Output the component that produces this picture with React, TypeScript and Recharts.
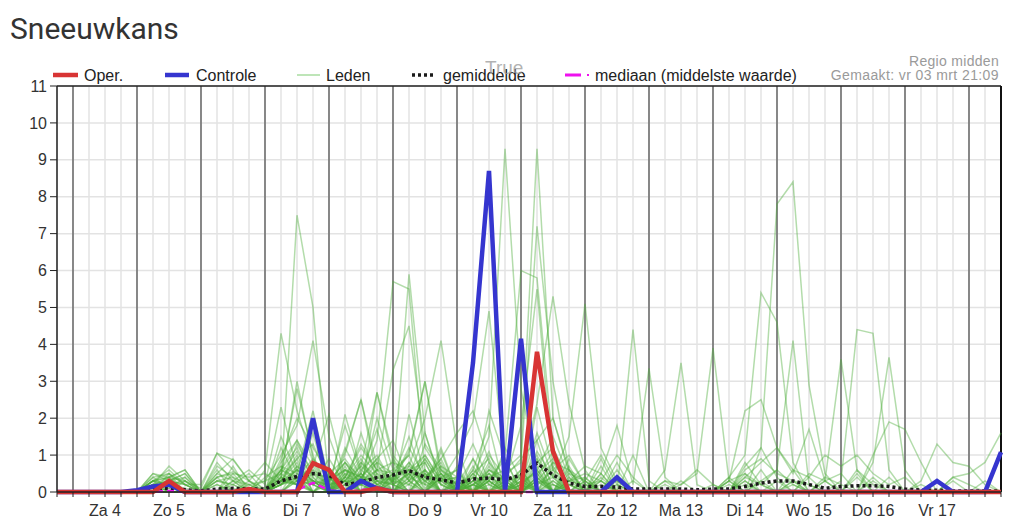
import React from "react";
import { LineChart, Line, XAxis, YAxis, CartesianGrid, ReferenceLine } from "recharts";

// 6-hourly steps starting vr 3 mrt 18:00 (index 0) up to za 18 mrt 12:00 (index 59)
const dayLabels = ["Za 4", "Zo 5", "Ma 6", "Di 7", "Wo 8", "Do 9", "Vr 10", "Za 11", "Zo 12", "Ma 13", "Di 14", "Wo 15", "Do 16", "Vr 17"];
const yTicks = [0, 1, 2, 3, 4, 5, 6, 7, 8, 9, 10, 11];

const oper = [0, 0,0,0,0, 0,0,0.3,0, 0,0,0,0.08, 0,0,0,0.78, 0.6,0,0,0.1, 0,0,0,0, 0,0,0,0, 0,3.8,1.1,0, 0,0,0,0, 0,0,0,0, 0,0,0,0, 0,0,0,0, 0,0,0,0, 0,0,0,0, 0,0,0];
const controle = [0, 0,0,0,0, 0.05,0.15,0.2,0, 0,0,0,0, 0,0,0,2.0, 0,0,0.3,0.1, 0,0,0,0, 0,3.5,8.7,0, 4.15,0,0,0, 0,0,0.4,0, 0,0,0,0, 0,0,0,0, 0,0,0,0, 0,0,0,0, 0,0,0.3,0, 0,0,1.08];
const gemiddelde = [0, 0,0,0,0, 0.03,0.08,0.1,0.06, 0.03,0.08,0.1,0.08, 0.08,0.3,0.42,0.5, 0.45,0.2,0.27,0.39, 0.46,0.58,0.4,0.33, 0.24,0.35,0.38,0.33, 0.46,0.78,0.46,0.24, 0.15,0.15,0.13,0.08, 0.08,0.08,0.08,0.06, 0.08,0.08,0.15,0.24, 0.3,0.3,0.2,0.1, 0.15,0.17,0.17,0.15, 0.08,0.05,0.05,0.03, 0.03,0.03,0.03];
const mediaan = [0, 0,0,0,0, 0,0,0.03,0, 0,0,0,0, 0,0,0.05,0.25, 0.05,0,0.05,0.1, 0,0,0,0, 0,0,0,0, 0,0,0,0, 0,0,0,0, 0,0,0,0, 0,0,0,0, 0,0,0,0, 0,0,0,0, 0,0,0,0, 0,0,0];

const leden: number[][] = [
  [0, 0,0,0,0, 0,0.3,0.2,0, 0,0,0.1,0, 0,0.3,7.5,5.0, 0.2,0.4,1.2,0.6, 0.8,0.3,0,0.5, 0,0.2,0.6,0.3, 0.4,1.0,0.2,0, 0,0,0,0, 0,0,0,0, 0,0,0.5,0, 0,0,0,0, 0,0,0,0, 0,0,0,0, 0,0,0],
  [0, 0,0,0,0, 0,0.4,0.5,0.2, 0,0.3,0.2,0, 0.6,4.3,2.2,0.8, 0,1.1,2.5,0.7, 0.3,1.2,0.4,0, 0,0.5,0,1.2, 0.3,0,0.8,0.2, 0,0.9,0,0, 0,0,0,0, 0,0,0,0, 0,0.3,0,0, 0,0,0,0, 0,0,0,0, 0,0,0],
  [0, 0,0,0,0, 0,0.2,0.7,0.3, 0.1,1.05,0.6,0.1, 0.3,1.0,1.8,4.1, 1.5,0.3,0,2.7, 1.0,0.4,1.6,0.3, 0,0,1.0,0.4, 0,2.3,0.6,0, 0,0,0.4,0, 0,0,0,0, 0.2,0,0.7,1.2, 0.4,0,0,0, 0,0,0,0, 0,0,0,0, 0,0,0],
  [0, 0,0,0,0, 0,0,0.4,0, 0,0.5,0.9,0.3, 0,0.9,2.0,1.2, 0.5,0.9,0.3,1.4, 5.7,5.5,0.5,0, 0.3,0,0.8,0, 0,0.6,1.5,0.4, 0,0,0,0, 0,0,0,0, 0,0,0,0.3, 0.6,0.2,0,0, 0,0,0,0, 0,0,0,0, 0,0,0],
  [0, 0,0,0,0, 0,0.1,0.3,0.5, 0,0,0.3,0.6, 0.2,2.3,0.6,0.5, 0,0.3,0.8,0.2, 0.3,5.9,1.6,0.2, 0,0.6,1.8,0, 0.2,0,0,0.9, 0.2,0,0,0, 0,0,0,0, 0,0,0,0, 0,0,0,0, 0,0.4,0,0, 0,0,0,0, 0,0,0],
  [0, 0,0,0,0, 0,0.3,0.4,0.6, 0,0.8,0.3,0, 0,0.5,2.8,1.0, 0,0.4,1.3,0.6, 3.3,4.5,1.2,0.5, 0,0,2.2,0.9, 0,1.4,0,0, 0,0,0,0, 0,0,0,0, 0,0,0.8,0.2, 0,0,0,0, 0,0,0,0, 0,0,0,0, 0,0,0],
  [0, 0,0,0,0, 0,0,0.2,0.1, 0,0.4,0.5,0, 0,0.2,1.3,0.5, 0.2,1.8,0.5,0.2, 0.5,0.7,2.0,4.1, 1.2,0,0.4,0, 0.3,0.9,0,0, 0,0,0,0, 0,0,0,0, 0,0,0,0, 0,0,0,0, 0,0,0.3,0, 0,0,0,0, 0,0,0],
  [0, 0,0,0,0, 0,0,0,0.3, 0,0,0,0.2, 0,0.6,1.2,0.3, 0,0,0.6,1.0, 0.2,0.8,0.3,0.5, 0,0.4,1.5,9.3, 2.8,0.5,0,0, 0,0,0.2,0, 0,0,0,0, 0,0,0,0, 0,0,0,0, 0,0,0,0, 0,0,0,0, 0,0,0],
  [0, 0,0,0,0, 0,0.2,0,0, 0,0,0,0, 0,0.3,0.8,0, 0,0.5,0.3,0, 0,0.6,1.0,0.3, 0,0,0.4,0.6, 1.0,9.3,2.0,0.5, 0.3,0,0,0, 0,0,0,0, 0,0,0,0, 0,0,0,0, 0,0,0,0, 0,0,0,0, 0,0,0],
  [0, 0,0,0,0, 0,0,0.3,0.2, 0,0.6,0,0, 0,0.4,3.0,0.9, 0.4,0,1.6,0.3, 0,2.1,0.4,0.8, 0,0.7,0,0.5, 0.8,7.2,3.0,0.6, 0,0,0.8,0, 0,0,0,0, 0,0,0,0, 0,0,0,0, 0,0,0,0, 0,0,0,0, 0,0,0],
  [0, 0,0,0,0, 0,0.4,0.1,0, 0,0.3,0.4,0.2, 0,1.5,0.5,2.2, 0.3,0.8,0.2,2.0, 0.6,1.0,0,1.1, 0,0,0.3,1.0, 6.0,5.8,1.2,0, 0.4,0,0,1.0, 0,0,0,0, 0,0,0,0, 0,0,0.4,0, 0,0,0,0, 0,0,0,0, 0,0,0],
  [0, 0,0,0,0, 0,0,0.5,0.2, 0,0.2,0,0.3, 0,0.8,1.4,0.4, 0,0.6,0.4,0.9, 1.4,0.3,0.9,0.2, 0,0.3,1.1,0, 0.5,2.4,5.3,2.4, 0.6,0,0,0, 0,0,0,0, 0,0,0,0, 0,0,0,0, 0,0,0,0, 0,0,0,0, 0,0,0],
  [0, 0,0,0,0, 0,0.2,0.3,0, 0,0,0,0, 0,0,0.7,0.3, 0,0.4,1.0,0.5, 0.3,0.6,0.8,0, 0.4,0,0.5,0.3, 0,1.1,0.4,1.5, 5.1,1.2,0.3,0, 0,0,0,0, 0,0,0,0, 0,0,0,0, 0,0,0,0, 0,0,0,0, 0,0,0],
  [0, 0,0,0,0, 0,0.3,0.2,0, 0,0,0.7,0, 0.4,0.7,0.3,1.6, 0,1.2,0.4,0, 0.5,0,1.3,0.6, 0.2,0.9,0,0.3, 1.8,5.5,0.6,1.0, 0.2,0.3,0,0, 0,0,0,0, 0,0.3,0,0, 0,0,0,0, 0,0,0,0, 0,0,0,0, 0,0,0],
  [0, 0,0,0,0, 0,0.5,0.3,0, 0,0,0.2,0.5, 0,0.3,1.0,0.2, 0.9,0.2,0.7,0.3, 0.4,1.5,0.2,0.3, 1.0,1.9,4.9,0.6, 0,0.4,0,0.3, 0.4,0,0,0, 0,0,0,0, 0,0,0,0, 0,0,0,0, 0,0,0,0, 0,0,0,0, 0,0,0],
  [0, 0,0,0,0, 0,0,0.1,0.4, 0,0.4,0,0, 0,0.6,0.4,0.3, 0,0.3,0.9,0.2, 0.4,0.6,0.3,0.9, 0,0.2,0.5,0, 0.2,1.6,0.4,0, 0,0.5,0,4.4, 0.3,0,0,0, 0,0,0,0, 0,0,0,0, 0,0,0,0, 0,0,0,0, 0,0,0],
  [0, 0,0,0,0, 0,0.2,0,0, 0,0,0,0, 0,0.4,0.9,0, 0.3,0,0.5,1.7, 0.2,0.5,0,0.4, 0.6,0,0.3,0, 0,0.8,1.2,0.3, 0.7,0.5,1.8,0.2, 3.35,0.4,0,0, 0,0,0,0, 0,0,0,0, 0,0,0,0, 0,0,0,0, 0,0,0],
  [0, 0,0,0,0, 0,0,0,0, 0,0,0,0, 0,0.2,0.5,0.3, 0,0.8,0.2,0, 0.9,0.3,0.6,0.2, 0,0.5,0,0.4, 0,0.4,0,0.7, 0,0.3,0,0, 0,0.6,3.5,0.2, 0,0,0,0, 0,0,0,0, 0,0,0,0, 0,0,0,0, 0,0,0],
  [0, 0,0,0,0, 0,0.3,0.4,0, 0,0,0,0, 0,0.2,0.4,0.6, 0,0.2,0.5,0, 0.3,0.8,0.1,0.5, 0.2,0,0.7,0, 0.3,0.5,0.9,0, 0,0.3,0,0, 0,0,0.2,0.5, 3.9,0.3,0,0.6, 0,0.2,0,0, 0,0,0,0, 0,0,0,0, 0,0,0],
  [0, 0,0,0,0, 0,0,0,0, 0,0,0,0, 0,0,0.3,0.2, 0,0.4,0,0.6, 0.5,0.2,0.8,0, 0,0.3,0,0.2, 0.6,0,0.3,0, 0,0,0,0, 0,0,0,0, 0,0.4,1.0,5.4, 4.6,0.8,0,0, 0,0,0,0, 0,0,0,0, 0,0,0],
  [0, 0,0,0,0, 0,0,0,0, 0,0,0,0, 0,0.3,0.6,0, 0,0,0.4,0.9, 0.2,0,0.5,0.3, 0.4,0,0,0.3, 0,0.7,0,0.2, 0,0,0,0, 0,0,0,0, 0,0,0,1.2, 7.8,8.4,2.9,0.5, 0,0,0,0, 0,0,0,0, 0,0,0],
  [0, 0,0,0,0, 0,0,0,0, 0,0,0,0, 0,0.5,0.2,0, 0.3,0.6,0,0.2, 0,0.4,0.2,0, 0.2,0.4,0.3,0.9, 0,0.2,0.4,0, 0,0,0,0, 0,0,0,0, 0,0.3,0.5,0.2, 0.6,4.1,0.2,0, 0,0,0,0, 0,0,0,0, 0,0,0],
  [0, 0,0,0,0, 0,0,0,0, 0,0,0,0, 0,0,0.4,0.9, 0,0.3,0.3,0, 0.5,0,0.4,0.7, 0,0.2,0.5,0, 0.4,0,0,0.6, 0,0.5,0,0, 0,0,0,0, 0,0,0.3,0, 0,0,0.5,0.3, 3.6,0.6,0,0.4, 0,0,0,0, 0,0,0],
  [0, 0,0,0,0, 0,0,0,0, 0,0,0,0, 0,0.2,0.7,0.3, 0.2,0,0.4,0.3, 0,0.3,0.9,0.2, 0.3,0,0.2,0.4, 0.2,0.6,0,0, 0.3,0,0,0, 0,0,0,0, 0,0,0,0, 0,0.3,0.2,0, 0.3,4.4,4.3,0.6, 0,0,0,0, 0,0,0],
  [0, 0,0,0,0, 0,0,0,0, 0,0,0,0, 0,0.3,0.2,0.5, 0.4,0,0.2,0.6, 0,0.5,0,0.3, 0.4,0.2,0,0, 0,0.3,0.2,0, 0,0,0,0.3, 0,0,0,0, 0,0.2,0,0, 0,0,0,0.4, 0.2,0,0.8,3.65, 0.6,0,0,0, 0,0,0],
  [0, 0,0,0,0, 0,0,0,0, 0,0,0,0, 0,0,0.3,0.2, 0,0.6,0.3,0.4, 0.2,0,0.3,0, 0,0.6,0.2,0, 0.3,0,0.5,0, 0,0,0,0, 0,0.2,0,0, 0,0,0.4,0.2, 0,0.6,0,0.3, 0.5,0,1.0,1.9, 1.7,0.8,0,0.4, 0.2,0,0],
  [0, 0,0,0,0, 0,0,0,0, 0,0,0,0, 0,0.2,0.4,0, 0,0.2,0.5,0, 0.3,0.2,0,0.4, 0,0.3,0,0.2, 0,0.4,0,0.2, 0,0,0.6,0, 0,0,0,0, 0,0.4,0,0, 0.3,0,0,0, 0,0.5,0,0, 0,0.3,1.3,0.8, 0.7,0.2,0],
  [0, 0,0,0,0, 0,0.2,0.3,0.4, 0,0.2,0,0, 0,0.3,0.2,0.3, 0.2,0.3,0.2,0.8, 0,0.2,0.6,0, 0.2,0,0.3,0, 0,0.2,0.6,0.3, 0,0.7,0,0, 0,0,0.3,0, 0,0,0.2,0, 0,0,0,0, 0,0,0.4,0, 0,0.2,0,0.4, 0.5,0.8,1.6],
  [0, 0,0,0,0, 0,0,0,0, 0,0,0,0, 0,0.6,0.3,0, 0.5,0,0.8,0.4, 0,0.6,0.3,0, 0.7,0,0.3,0, 0,0.3,0,0.5, 0,0,0.3,0, 0,0,0,0, 0,0.3,2.2,2.5, 1.2,0.5,1.7,0.3, 0,0,0,0, 0,0,0,0, 0,0,0],
  [0, 0,0,0,0, 0,0.3,0.6,0.2, 0.2,1.05,0.87,0.3, 0.1,0.6,1.4,0.7, 0,0.5,0,0.3, 0.2,0,0.6,0, 0,0.2,0,0, 0.2,0,0,0, 0,0,0,0, 0,0,0,0, 0,0,0.3,0, 0,0,0,0, 0,0,0,0, 0,0,0,0, 0,0,0],
  [0, 0,0,0,0, 0,0.5,0.4,0.6, 0,0.4,0.55,0.3, 0.8,0.3,0.9,1.3, 0.3,0.8,0.4,0, 0.4,0,0,0.6, 0,0.4,0,0, 0.6,0,0.2,0, 0,0.2,0,0, 0,0,0,0, 0,0,0,0.3, 0,0,0,0, 0,0,0,0, 0,0,0,0, 0,0,0],
  [0, 0,0,0,0, 0,0.1,0.2,0.3, 0,0.7,0.4,0, 0,1.2,0.3,0.7, 2.1,0.4,0.3,0.6, 0.3,1.1,3.0,0.4, 0,0.9,0.2,0, 0.4,0,0.7,0, 0.3,0,0,0, 0,0,0,0, 0,0,0,0, 0,0,0,0.3, 0,0,0,0, 0,0,0,0, 0,0,0],
  [0, 0,0,0,0, 0,0.2,0.4,0.3, 0,0,0.5,0.4, 0.5,0.2,0.6,0.3, 0,1.0,2.5,0.4, 0.6,0.5,0,0.7, 0.4,1.3,0.3,0, 0,0.3,0,0.4, 0,0,0,0, 0,0.3,0,0, 0,0,0,0, 0,0,0,0, 0,0,0,0, 0,0,0,0, 0,0,0],
  [0, 0,0,0,0, 0,0,0.3,0.5, 0,0.3,0.2,0, 0,0.7,0.5,0.2, 0.4,0.3,0.7,2.7, 0.8,0.6,0.2,1.2, 0,0.5,0.9,0, 0,0.3,0.8,0.6, 0,0,0,0, 0,0,0,0, 0,0,0,0, 0,0,0,0, 0,0,0,0, 0,0,0,0, 0,0,0],
  [0, 0,0,0,0, 0,0.3,0.5,0, 0,0,0.3,0.2, 0.3,0.5,1.1,0.4, 0,2.1,0.6,0.2, 0,0.4,1.0,0.3, 0.6,0,0.4,0.2, 0,0.5,0,0, 0,0.4,0,0, 0,0,0,0, 0,0,0,0, 0,0,0,0, 0,0,0,0, 0,0,0,0, 0,0,0],
  [0, 0,0,0,0, 0,0,0.2,0, 0,0.5,0.3,0, 0,0.4,0.2,0.6, 0.3,0.6,0.4,0.8, 0.5,1.0,3.0,0.6, 0.3,0,0.6,0.2, 0,0.9,0,0.3, 0.2,0,0,0, 0,0,0,0, 0,0,0,0, 0,0,0,0, 0,0,0,0, 0,0,0,0, 0,0,0],
  [0, 0,0,0,0, 0,0.3,0,0, 0,0,0,0, 0,0.4,0.2,0, 0.2,0.3,0,0.5, 0,0.7,0.4,0.9, 1.6,2.2,0.8,0.3, 0,0.4,1.1,0, 0,0,0,0, 0,0,0,0, 0,0,0,0, 0,0,0,0, 0,0,0,0, 0,0,0,0, 0,0,0],
  [0, 0,0,0,0, 0,0.1,0.3,0.2, 0,0,0,0, 0,0.2,0.6,0.2, 0,0.7,0,0.3, 0.2,0.5,0.4,0, 0.3,0,0.6,0.4, 0.9,1.4,2.0,0.6, 0.3,1.0,0.2,0, 0,0,0,0, 0,0,0,0, 0,0,0,0, 0,0,0,0, 0,0,0,0, 0,0,0],
  [0, 0,0,0,0, 0,0,0,0, 0,0,0,0, 0,0,0.4,0, 0.4,0,0.2,0, 0,0.3,0,0.4, 0,0.2,0,0.5, 0.2,0.6,0,0.3, 0.5,0.3,1.0,0.4, 0,0.3,0.2,0.6, 0.2,0,0.6,0.9, 0.5,0.3,0,0, 0,0.6,0.2,0, 0,0,0,0, 0,0,0],
  [0, 0,0,0,0, 0,0,0,0, 0,0,0,0, 0,0.2,0.3,0, 0,0.2,0,0.4, 0.3,0,0.5,0, 0,0.3,0,0, 0.5,0,0.3,0, 0,0,0,0, 0,0,0,0, 0,0,0.4,0.8, 1.2,0.6,0.4,1.0, 0.7,1.0,0.5,0.2, 0.4,0,0,0.3, 0,0.3,0],
];

const steps = oper.map((_, i) => i);
const midnights = steps.filter((i) => (i - 1) % 4 === 0);

const rows = steps.map((i) => {
  const r: Record<string, number> = {
    t: i,
    oper: oper[i],
    controle: controle[i],
    gemiddelde: gemiddelde[i],
    mediaan: mediaan[i],
  };
  leden.forEach((m, k) => {
    r["lid" + k] = m[i];
  });
  return r;
});

const FONT = "'Liberation Sans', Arial, sans-serif";

const XTick = (props: any) => {
  const { x, y, payload } = props;
  const v = payload.value as number;
  const label = (v - 3) % 4 === 0 ? dayLabels[(v - 3) / 4] : undefined;
  if (!label) return <g />;
  return (
    <text x={x} y={y} dy={11} textAnchor="middle" fontSize={16} fontFamily={FONT} fill="#333">
      {label}
    </text>
  );
};

export default function App() {
  return (
    <div style={{ position: "absolute", left: 0, top: 0, width: 1024, height: 531, background: "#fff" }}>
      <LineChart width={1024} height={531} data={rows} margin={{ top: 86, right: 23, bottom: 9, left: 0 }}>
        <CartesianGrid stroke="#e3e3e3" strokeWidth={1.5} />
        {midnights.map((m) => (
          <ReferenceLine key={"mid" + m} x={m} stroke="#6f6f6f" strokeWidth={1.6} />
        ))}
        <ReferenceLine y={11} stroke="#222" strokeWidth={1.5} />
        <ReferenceLine x={59} stroke="#111" strokeWidth={2} />
        <XAxis
          type="number"
          dataKey="t"
          domain={[0, 59]}
          ticks={steps}
          interval={0}
          height={30}
          tickSize={5}
          tickMargin={8}
          tick={<XTick />}
          axisLine={{ stroke: "#222", strokeWidth: 1.5 }}
          tickLine={{ stroke: "#222" }}
          allowDecimals={false}
        />
        <YAxis
          type="number"
          domain={[0, 11]}
          ticks={yTicks}
          interval={0}
          width={57}
          tickSize={7}
          tickMargin={3}
          axisLine={{ stroke: "#222", strokeWidth: 1.5 }}
          tickLine={{ stroke: "#222" }}
          tick={{ fontSize: 16, fontFamily: FONT, fill: "#333" }}
        />
        {leden.map((_, k) => (
          <Line
            key={"lid" + k}
            type="linear"
            dataKey={"lid" + k}
            stroke="#4aab37"
            strokeOpacity={0.42}
            strokeWidth={1.5}
            dot={false}
            activeDot={false}
            isAnimationActive={false}
          />
        ))}
        <Line type="linear" dataKey="gemiddelde" stroke="#1a1a1a" strokeWidth={3.5} strokeDasharray="3 3" dot={false} activeDot={false} isAnimationActive={false} />
        <Line type="linear" dataKey="mediaan" stroke="#ee11ee" strokeWidth={2.5} strokeDasharray="7 4" dot={false} activeDot={false} isAnimationActive={false} />
        <Line type="linear" dataKey="controle" stroke="#3535cf" strokeWidth={4.5} dot={false} activeDot={false} isAnimationActive={false} />
        <Line type="linear" dataKey="oper" stroke="#d83434" strokeWidth={4.5} dot={false} activeDot={false} isAnimationActive={false} />
      </LineChart>
      <svg width={1024} height={86} style={{ position: "absolute", left: 0, top: 0 }}>
        <text x={10} y={39} fontFamily="Roboto, sans-serif" fontSize={30} fill="#333">Sneeuwkans</text>
        <g fontFamily={FONT} fontSize={16} fill="#222">
          <line x1={53} x2={78} y1={75} y2={75} stroke="#d83434" strokeWidth={4.5} />
          <text x={84} y={81}>Oper.</text>
          <line x1={165} x2={189} y1={75} y2={75} stroke="#3535cf" strokeWidth={4.5} />
          <text x={196} y={81}>Controle</text>
          <line x1={297} x2={320} y1={75} y2={75} stroke="#a9dca0" strokeWidth={1.5} />
          <text x={326} y={81}>Leden</text>
          <line x1={412} x2={434} y1={75} y2={75} stroke="#1a1a1a" strokeWidth={3.5} strokeDasharray="3 3" />
          <text x={443} y={81}>gemiddelde</text>
          <line x1={565} x2={581} y1={75} y2={75} stroke="#ee11ee" strokeWidth={3} />
          <line x1={587} x2={589} y1={75} y2={75} stroke="#ee11ee" strokeWidth={2} />
          <text x={595} y={81}>mediaan (middelste waarde)</text>
        </g>
        <text x={485} y={74} fontFamily={FONT} fontSize={19} fill="#999" opacity={0.75}>True</text>
        <text x={999} y={66} textAnchor="end" fontFamily={FONT} fontSize={14} fill="#9a9a9a" letterSpacing={0.3}>Regio midden</text>
        <text x={999} y={80} textAnchor="end" fontFamily={FONT} fontSize={14} fill="#9a9a9a" letterSpacing={0.4}>Gemaakt: vr 03 mrt 21:09</text>
      </svg>
    </div>
  );
}
